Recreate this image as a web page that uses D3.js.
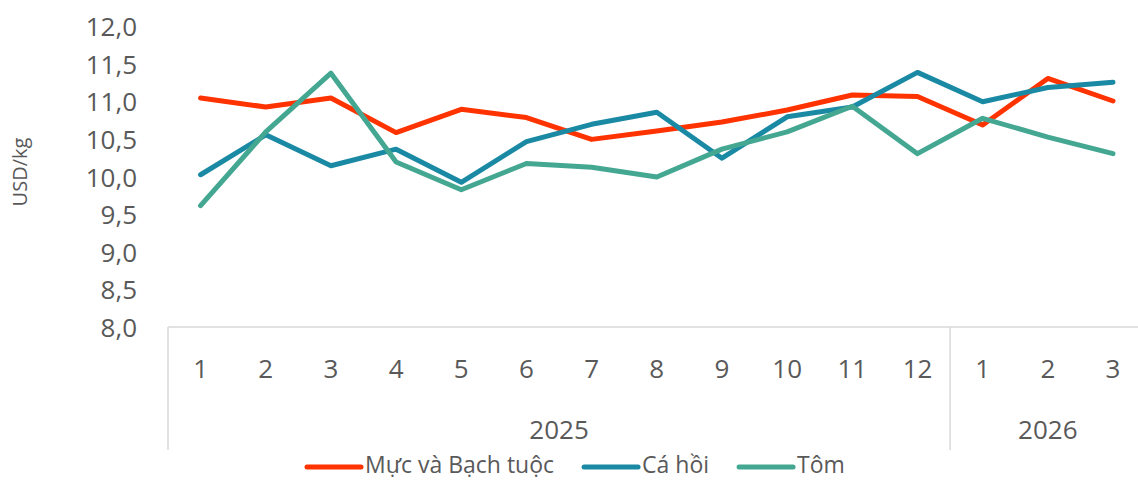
<!DOCTYPE html>
<html>
<head>
<meta charset="utf-8">
<script src="https://cdn.jsdelivr.net/npm/d3@7"></script>
<style>
  html, body { margin: 0; padding: 0; background: #fff; }
  svg text { font-family: "Open Sans", "Noto Sans", sans-serif; fill: #595959; }
</style>
</head>
<body>
<div id="chart"></div>
<script>
// category labels
const months = ["1", "2", "3", "4", "5", "6", "7", "8", "9", "10", "11", "12", "1", "2", "3"];
const yearLabels = ["2025", "2026"];
const yearSpans = [12, 3];

// series (USD/kg)
const seriesNames = ["Mực và Bạch tuộc", "Cá hồi", "Tôm"];
const muc = [11.05, 10.93, 11.05, 10.59, 10.90, 10.79, 10.50, 10.61, 10.73, 10.89, 11.09, 11.07, 10.69, 11.31, 11.01];
const caHoi = [10.03, 10.56, 10.15, 10.37, 9.93, 10.47, 10.70, 10.86, 10.25, 10.80, 10.93, 11.39, 11.00, 11.19, 11.26];
const tom = [9.62, 10.60, 11.38, 10.20, 9.83, 10.18, 10.13, 10.00, 10.37, 10.60, 10.94, 10.31, 10.78, 10.53, 10.31];
const yTicks = [8, 8.5, 9, 9.5, 10, 10.5, 11, 11.5, 12];

const width = 1138;
const height = 480;
const plotLeft = 168;
const plotRight = 1145.6;   // last category runs past the picture edge
const plotTop = 26.5;
const plotBottom = 327.5;

const colors = ["#ff3300", "#1a89a3", "#44a792"];
const seriesData = [muc, caHoi, tom];

const svg = d3.select("#chart").append("svg")
    .attr("width", width)
    .attr("height", height);

const x = d3.scaleBand()
    .domain(d3.range(months.length))
    .range([plotLeft, plotRight])
    .padding(0);

const y = d3.scaleLinear()
    .domain([8, 12])
    .range([plotBottom, plotTop]);

const fmt = d => d3.format(".1f")(d).replace(".", ",");

// y axis labels only
const yAxis = svg.append("g")
    .attr("transform", `translate(${plotLeft - 31},0)`)
    .call(d3.axisLeft(y).tickValues(yTicks).tickSize(0).tickPadding(0).tickFormat(fmt));
yAxis.select(".domain").remove();
yAxis.selectAll("text")
    .style("font-size", "26px")
    .attr("fill", "#595959")
    .attr("dy", "0.35em");

svg.append("text")
    .attr("transform", `translate(27,172) rotate(-90)`)
    .attr("text-anchor", "middle")
    .style("font-size", "20px")
    .text("USD/kg");

// category axis
const axisColor = "#d9d9d9";
svg.append("line")
    .attr("x1", plotLeft).attr("x2", plotRight)
    .attr("y1", 327).attr("y2", 327)
    .style("stroke", axisColor).style("stroke-width", 1.5);

const xAxis = svg.append("g")
    .attr("transform", `translate(0,${plotBottom})`)
    .call(d3.axisBottom(x).tickSize(0).tickPadding(0).tickFormat(i => months[i]));
xAxis.select(".domain").remove();
xAxis.selectAll("text")
    .style("font-size", "26px")
    .attr("fill", "#595959")
    .attr("y", 41)
    .attr("dy", "0.35em");

// year groups and separators
let start = 0;
const bounds = [0];
yearSpans.forEach((span, i) => {
    const x0 = x(start);
    const x1 = x(start + span - 1) + x.bandwidth();
    svg.append("text")
        .attr("x", (x0 + x1) / 2)
        .attr("y", 430)
        .attr("dy", "0.35em")
        .attr("text-anchor", "middle")
        .style("font-size", "26px")
        .text(yearLabels[i]);
    start += span;
    bounds.push(start);
});
bounds.forEach(b => {
    const bx = b < months.length ? x(b) : plotRight;
    svg.append("line")
        .attr("x1", bx).attr("x2", bx)
        .attr("y1", 327).attr("y2", 450)
        .style("stroke", axisColor).style("stroke-width", 1.5);
});

// lines
const line = d3.line()
    .x((d, i) => x(i) + x.bandwidth() / 2)
    .y(d => y(d));

svg.append("g").selectAll("path")
    .data(seriesData).enter()
    .append("path")
    .attr("d", d => line(d))
    .style("fill", "none")
    .style("stroke", (d, i) => colors[i])
    .style("stroke-width", 5)
    .style("stroke-linejoin", "round")
    .style("stroke-linecap", "round");

// legend
const legend = svg.append("g");
let lx = 307;
const ly = 465;
seriesNames.forEach((name, i) => {
    legend.append("line")
        .attr("x1", lx).attr("x2", lx + 54)
        .attr("y1", ly + 2).attr("y2", ly + 2)
        .style("stroke", colors[i])
        .style("stroke-width", 5)
        .style("stroke-linecap", "round");
    const t = legend.append("text")
        .attr("x", lx + 58)
        .attr("y", ly)
        .attr("dy", "0.35em")
        .style("font-size", "23px")
        .text(name);
    lx += 58 + t.node().getComputedTextLength() + 30;
});
</script>
</body>
</html>
